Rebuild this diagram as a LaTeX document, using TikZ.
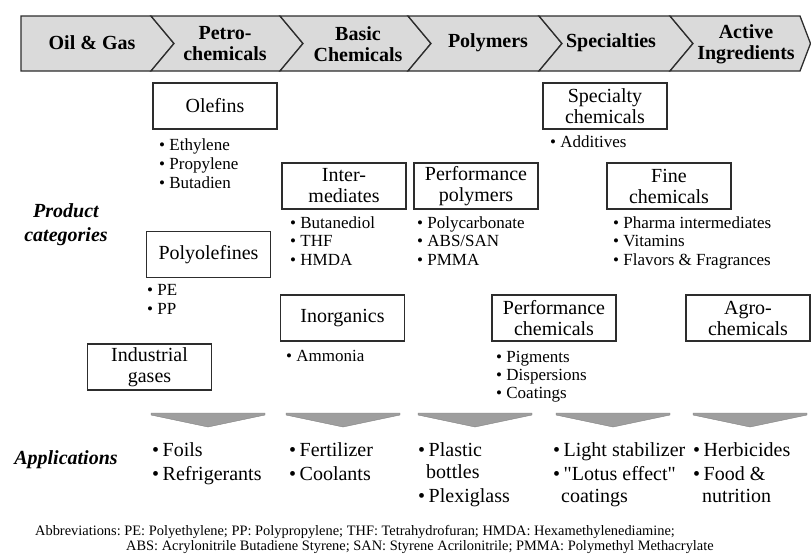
\documentclass[tikz,border=0pt]{standalone}
\usepackage{fontspec}
\setmainfont{Liberation Serif}
\definecolor{bandgray}{RGB}{218,218,218}
\definecolor{edgegray}{RGB}{45,45,45}
\definecolor{arrowgray}{RGB}{158,158,158}
\definecolor{arrowedge}{RGB}{130,130,130}
\begin{document}
\frenchspacing
\begin{tikzpicture}[x=1pt,y=-1pt,
  stage/.style={fill=bandgray, draw=edgegray, line width=1.3pt, line join=miter},
  stagetxt/.style={font=\fontsize{20}{21}\selectfont\bfseries, align=center, inner sep=0pt},
  catbox/.style={draw=edgegray, line width=1.3pt, minimum width=124pt, minimum height=46pt,
    inner sep=0pt, align=center, font=\fontsize{20}{21}\selectfont},
  item/.style={anchor=west, inner sep=0pt, text height=12pt, text depth=3.5pt,
    font=\fontsize{17}{19}\selectfont},
  appitem/.style={anchor=west, inner sep=0pt, text height=14pt, text depth=4pt,
    font=\fontsize{20}{23}\selectfont},
  rowlabel/.style={font=\fontsize{20}{24}\selectfont\bfseries\itshape, align=center, inner sep=0pt},
  funnel/.style={fill=arrowgray, draw=arrowedge, line width=0.4pt},
  note/.style={anchor=west, inner sep=0pt, text height=10pt, text depth=3pt,
    font=\fontsize{14.4}{15}\selectfont\frenchspacing}
]
\useasboundingbox (0,0) rectangle (811,554);

% value chain band
\draw[stage] (21,16) -- (151,16) -- (174,43.5) -- (151,71) -- (21,71) -- cycle;
\foreach \l/\r in {151/280, 280/408, 408/539, 539/670}{
  \draw[stage] (\l,16) -- (\r,16) -- ({\r+23},43.5) -- (\r,71) -- (\l,71) -- ({\l+23},43.5) -- cycle;
}
\draw[stage] (670,16) -- (800,16) -- (810.5,43.5) -- (800,71) -- (670,71) -- (693,43.5) -- cycle;

\node[stagetxt] (s1) at (92,43) {Oil \& Gas};
\node[stagetxt] (s2) at (225,44) {Petro-\\chemicals};
\node[stagetxt] (s3) at (358,44) {Basic\\Chemicals};
\node[stagetxt] (s4) at (488,43) {Polymers};
\node[stagetxt] (s5) at (611,43) {Specialties};
\node[stagetxt] (s6) at (746,44) {Active\\Ingredients};

% row labels
\node[rowlabel] (prodlbl) at (66,225) {Product\\categories};
\node[rowlabel] (applbl) at (66,460) {Applications};

% product categories
\node[catbox] (olefins)   at (215,106) {Olefins};
\node[catbox] (polyolef)  at (208.5,254.5) {Polyolefines};
\node[catbox] (indgas)    at (149.5,367) {Industrial\\gases};
\node[catbox] (interm)    at (344,186) {Inter-\\mediates};
\node[catbox] (inorg)     at (342.5,318) {Inorganics};
\node[catbox] (perfpoly)  at (476,186) {Performance\\polymers};
\node[catbox] (specchem)  at (605,106) {Specialty\\chemicals};
\node[catbox] (finechem)  at (669,186) {Fine\\chemicals};
\node[catbox] (perfchem)  at (554,318) {Performance\\chemicals};
\node[catbox] (agrochem)  at (748,318) {Agro-\\chemicals};

% product examples
\node[item] (ol1) at (159,146.5) {\textbullet\ Ethylene};
\node[item] (ol2) at (159,165.5) {\textbullet\ Propylene};
\node[item] (ol3) at (159,184)   {\textbullet\ Butadien};

\node[item] (po1) at (147,291.5) {\textbullet\ PE};
\node[item] (po2) at (147,310)   {\textbullet\ PP};

\node[item] (in1) at (290,224) {\textbullet\ Butanediol};
\node[item] (in2) at (290,242.5) {\textbullet\ THF};
\node[item] (in3) at (290,261.5) {\textbullet\ HMDA};

\node[item] (io1) at (286,357.5) {\textbullet\ Ammonia};

\node[item] (pp1) at (417,224) {\textbullet\ Polycarbonate};
\node[item] (pp2) at (417,242.5) {\textbullet\ ABS/SAN};
\node[item] (pp3) at (417,261.5) {\textbullet\ PMMA};

\node[item] (sc1) at (550,143.5) {\textbullet\ Additives};

\node[item] (fc1) at (613,224) {\textbullet\ Pharma intermediates};
\node[item] (fc2) at (613,242.5) {\textbullet\ Vitamins};
\node[item] (fc3) at (613,261.5) {\textbullet\ Flavors \& Fragrances};

\node[item] (pc1) at (496,358.5) {\textbullet\ Pigments};
\node[item] (pc2) at (496,376.5) {\textbullet\ Dispersions};
\node[item] (pc3) at (496,394)   {\textbullet\ Coatings};

% funnel markers
\foreach \cx in {208,343,475,613,750}{
  \draw[funnel] ({\cx-57},413) -- ({\cx+57},413) -- ({\cx+57},415) -- (\cx,427) -- ({\cx-57},415) -- cycle;
}

% applications
\node[appitem] (a11) at (152,451) {\textbullet\hspace{3.5pt}Foils};
\node[appitem] (a12) at (152,475) {\textbullet\hspace{3.5pt}Refrigerants};

\node[appitem] (a21) at (289,451) {\textbullet\hspace{3.5pt}Fertilizer};
\node[appitem] (a22) at (289,475) {\textbullet\hspace{3.5pt}Coolants};

\node[appitem] (a31) at (418,451) {\textbullet\hspace{3.5pt}Plastic};
\node[appitem] (a32) at (426,473) {bottles};
\node[appitem] (a33) at (418,497) {\textbullet\hspace{3.5pt}Plexiglass};

\node[appitem] (a41) at (553,451) {\textbullet\hspace{3.5pt}Light stabilizer};
\node[appitem] (a42) at (553,475) {\textbullet\hspace{3.5pt}{\addfontfeatures{Ligatures=TeXOff}"Lotus effect"}};
\node[appitem] (a43) at (561,497) {coatings};

\node[appitem] (a51) at (693,451) {\textbullet\hspace{3.5pt}Herbicides};
\node[appitem] (a52) at (693,475) {\textbullet\hspace{3.5pt}Food \&};
\node[appitem] (a53) at (702,497) {nutrition};

% abbreviations
\node[note] (ab1) at (35,532) {Abbreviations: PE: Polyethylene; PP: Polypropylene; THF: Tetrahydrofuran; HMDA: Hexamethylenediamine;};
\node[note] (ab2) at (126,547) {ABS: Acrylonitrile Butadiene Styrene; SAN: Styrene Acrilonitrile; PMMA: Polymethyl Methacrylate};
\end{tikzpicture}
\end{document}
